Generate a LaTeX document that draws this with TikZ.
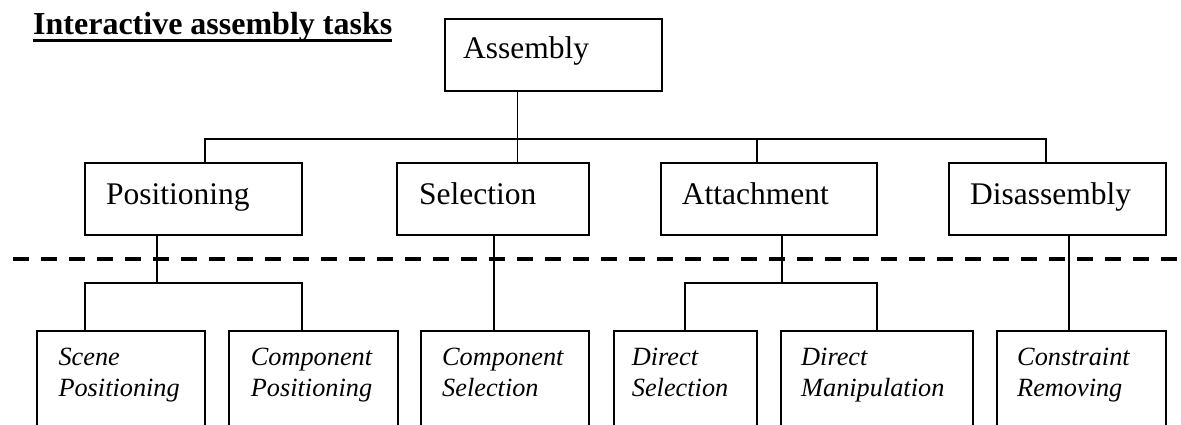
\documentclass[tikz,border=0pt]{standalone}
\usepackage{fontspec}
\setmainfont{Liberation Serif}
\begin{document}
\begin{tikzpicture}[x=1pt,y=-1pt,
  box/.style={draw, line width=2pt, inner sep=0pt, outer sep=0pt, anchor=north west},
  conn/.style={line width=1.8pt},
  lbl/.style={anchor=base west, inner sep=0pt, font=\fontsize{31.5}{36}\selectfont},
  ilbl/.style={anchor=base west, inner sep=0pt, font=\fontsize{26.3}{31}\selectfont\itshape},
  sep/.style={line width=4pt, dash pattern=on 16pt off 12pt}
]
\useasboundingbox (0,0) rectangle (1181,424);
\clip (0,0) rectangle (1181,424);

% title
\node[anchor=base west, inner sep=0pt, font=\fontsize{32}{36}\selectfont\bfseries] (title) at (33,34) {Interactive assembly tasks};
\draw[line width=3pt] ([yshift=-6pt]title.base west) -- ([yshift=-6pt]title.base east);

% boxes
\node[box, minimum width=217pt, minimum height=72pt] (asm) at (445,19) {};
\node[box, minimum width=216.6pt, minimum height=72pt] (pos) at (85,163) {};
\node[box, minimum width=192pt, minimum height=72pt] (sel) at (397,163) {};
\node[box, minimum width=216pt, minimum height=72pt] (att) at (661,163) {};
\node[box, minimum width=216.6pt, minimum height=72pt] (dis) at (949,163) {};
\node[box, minimum width=167.7pt, minimum height=110pt] (sp) at (37.3,331) {};
\node[box, minimum width=169pt, minimum height=110pt] (cp) at (229,331) {};
\node[box, minimum width=168pt, minimum height=110pt] (cs) at (421,331) {};
\node[box, minimum width=143.3pt, minimum height=110pt] (ds) at (613.7,331) {};
\node[box, minimum width=192pt, minimum height=110pt] (dm) at (781,331) {};
\node[box, minimum width=168.6pt, minimum height=110pt] (cr) at (997,331) {};

% labels
\node[lbl] (asmT) at (463,58) {Assembly};
\node[lbl] (posT) at (106,204) {Positioning};
\node[lbl] (selT) at (419,204) {Selection};
\node[lbl] (attT) at (681.6,204) {Attachment};
\node[lbl] (disT) at (970,204) {Disassembly};
\node[ilbl] (spT1) at (58.3,365) {Scene};
\node[ilbl] (spT2) at (58.3,396) {Positioning};
\node[ilbl] (cpT1) at (250.7,365) {Component};
\node[ilbl] (cpT2) at (250.7,396) {Positioning};
\node[ilbl] (csT1) at (442,365) {Component};
\node[ilbl] (csT2) at (442,396) {Selection};
\node[ilbl] (dsT1) at (631.7,365) {Direct};
\node[ilbl] (dsT2) at (631.7,396) {Selection};
\node[ilbl] (dmT1) at (801,365) {Direct};
\node[ilbl] (dmT2) at (801,396) {Manipulation};
\node[ilbl] (crT1) at (1017,365) {Constraint};
\node[ilbl] (crT2) at (1017,396) {Removing};

% dashed separator
\coordinate (dl) at (13.3,259);
\coordinate (dr) at (1195,259);
\draw[sep] (dl) -- (dr);

% upper connectors
\coordinate (j0) at (517.5,139);
\coordinate (jl) at (205,139);
\coordinate (jr) at (1046,139);
\coordinate (ja) at (757,139);
\draw[conn] (j0 |- asm.south) -- (j0 |- sel.north);
\draw[conn] (jl |- pos.north) -- (jl) -- (jr) -- (jr |- dis.north);
\draw[conn] (ja) -- (ja |- att.north);

% lower connectors
\coordinate (kp) at (157,283);
\coordinate (ka) at (782,283);
\coordinate (kal) at (685,283);
\coordinate (ks) at (493.7,283);
\coordinate (kd) at (1069,283);
\draw[conn] (kp |- pos.south) -- (kp);
\draw[conn] (pos.west |- sp.north) -- (pos.west |- kp) -- (pos.east |- kp) -- (pos.east |- cp.north);
\draw[conn] (ka |- att.south) -- (ka);
\draw[conn] (kal |- ds.north) -- (kal) -- (att.east |- ka) -- (att.east |- dm.north);
\draw[conn] (ks |- sel.south) -- (ks |- cs.north);
\draw[conn] (kd |- dis.south) -- (kd |- cr.north);
\end{tikzpicture}
\end{document}
